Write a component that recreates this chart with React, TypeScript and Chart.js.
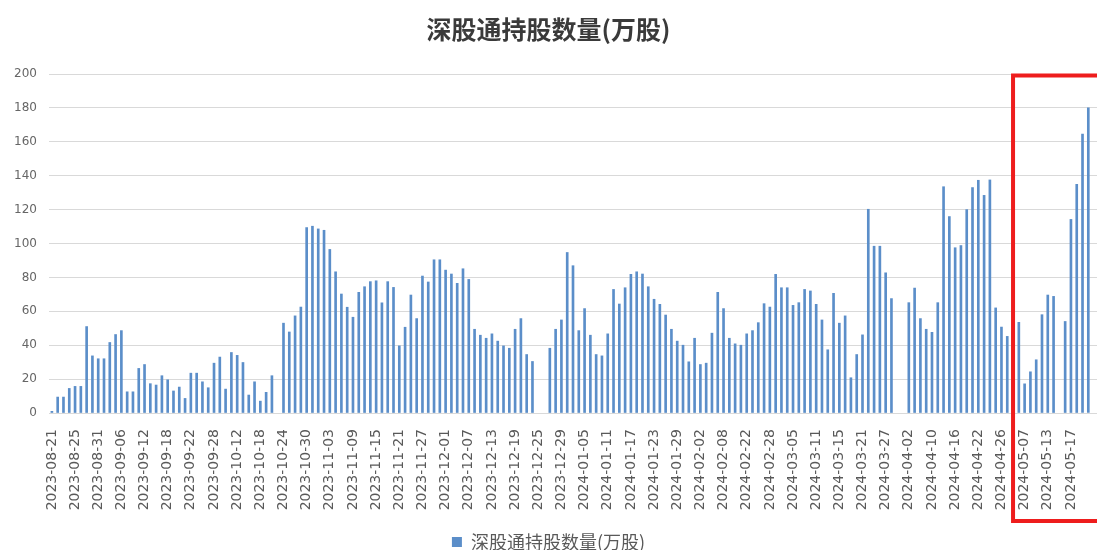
import React, { useEffect, useRef } from 'react';
import { Chart, registerables } from 'chart.js';

Chart.register(...registerables);

const chartTitle = '深股通持股数量(万股)';
const seriesName = '深股通持股数量(万股)';

// trading days per month
const daysAug23 = [21, 22, 23, 24, 25, 28, 29, 30, 31];
const daysSep23 = [1, 4, 5, 6, 7, 8, 11, 12, 13, 14, 15, 18, 19, 20, 21, 22, 25, 26, 27, 28];
const daysOct23 = [9, 10, 11, 12, 13, 16, 17, 18, 19, 20, 23, 24, 25, 26, 27, 30, 31];
const daysNov23 = [1, 2, 3, 6, 7, 8, 9, 10, 13, 14, 15, 16, 17, 20, 21, 22, 23, 24, 27, 28, 29, 30];
const daysDec23 = [1, 4, 5, 6, 7, 8, 11, 12, 13, 14, 15, 18, 19, 20, 21, 22, 25, 26, 27, 28, 29];
const daysJan24 = [2, 3, 4, 5, 8, 9, 10, 11, 12, 15, 16, 17, 18, 19, 22, 23, 24, 25, 26, 29, 30, 31];
const daysFeb24 = [1, 2, 5, 6, 7, 8, 19, 20, 21, 22, 23, 26, 27, 28, 29];
const daysMar24 = [1, 4, 5, 6, 7, 8, 11, 12, 13, 14, 15, 18, 19, 20, 21, 22, 25, 26, 27, 28, 29];
const daysApr24 = [1, 2, 3, 8, 9, 10, 11, 12, 15, 16, 17, 18, 19, 22, 23, 24, 25, 26, 29, 30];
const daysMay24 = [6, 7, 8, 9, 10, 13, 14, 15, 16, 17, 20, 21, 22, 23];

// holdings (万股) per month, null = no data that day
const valsAug23 = [1, 9.4, 9.4, 14.5, 15.7, 15.7, 51, 33.7, 32];
const valsSep23 = [32, 41.6, 46.3, 48.6, 12.5, 12.5, 26.3, 28.6, 17.3, 16.5, 22, 19.6, 13, 15.3, 8.6, 23.5, 23.5, 18.4, 14.9, 29.4];
const valsOct23 = [33, 14.1, 35.7, 34, 29.8, 10.6, 18.4, 7, 12.2, 22, null, 53, 47.8, 57.3, 62.5, 109.4, 110.2];
const valsNov23 = [108.6, 107.8, 96.5, 83.3, 70.2, 62.4, 56.5, 71.2, 74.5, 77.5, 78, 65, 77.5, 74.1, 39.6, 50.6, 69.6, 55.7, 80.8, 77.3, 90.4, 90.4];
const valsDec23 = [84.3, 82, 76.5, 85.1, 78.8, 49.4, 45.9, 44.1, 46.7, 42.4, 39.6, 38.2, 49.4, 55.7, 34.5, 30.4, null, null, 38.2, 49.4, 54.9];
const valsJan24 = [94.7, 86.9, 48.6, 61.6, 45.9, 34.5, 33.7, 46.7, 72.9, 64.3, 73.9, 81.8, 83.3, 82, 74.5, 67.1, 64.1, 57.8, 49.4, 42.4, 40, 30.2];
const valsFeb24 = [44.1, 28.6, 29.4, 47.1, 71.2, 61.6, 44.1, 40.8, 40, 46.7, 48.6, 53.3, 64.5, 62.5, 81.8];
const valsMar24 = [73.9, 73.9, 63.5, 65.1, 72.9, 72, 64.1, 54.9, 37.3, 70.6, 53, 57.3, 20.8, 34.5, 46.1, 120.2, 98.4, 98.4, 82.7, 67.5, null];
const valsApr24 = [null, 65.1, 73.7, 55.7, 49.4, 47.6, 65.1, 133.5, 115.9, 97.5, 98.8, 120, 133, 137.3, 128.4, 137.5, 62, 50.7, 45.2, 48];
const valsMay24 = [53.5, 17.2, 24.3, 31.4, 58, 69.6, 68.8, null, 54, 114.2, 134.9, 164.5, 180, null];

const tickLabels = [
  '2023-08-21', '2023-08-25', '2023-08-31', '2023-09-06', '2023-09-12', '2023-09-18', '2023-09-22', '2023-09-28',
  '2023-10-12', '2023-10-18', '2023-10-24', '2023-10-30', '2023-11-03', '2023-11-09', '2023-11-15', '2023-11-21',
  '2023-11-27', '2023-12-01', '2023-12-07', '2023-12-13', '2023-12-19', '2023-12-25', '2023-12-29', '2024-01-05',
  '2024-01-11', '2024-01-17', '2024-01-23', '2024-01-29', '2024-02-02', '2024-02-08', '2024-02-22', '2024-02-28',
  '2024-03-05', '2024-03-11', '2024-03-15', '2024-03-21', '2024-03-27', '2024-04-02', '2024-04-10', '2024-04-16',
  '2024-04-22', '2024-04-26', '2024-05-07', '2024-05-13', '2024-05-17',
];

const yMin = 0;
const yMax = 200;
const yStep = 20;
const highlightFrom = '2024-04-30';

const pad = (n: number) => (n < 10 ? '0' + n : '' + n);
const monthDays: [string, number[]][] = [
  ['2023-08', daysAug23], ['2023-09', daysSep23], ['2023-10', daysOct23], ['2023-11', daysNov23],
  ['2023-12', daysDec23], ['2024-01', daysJan24], ['2024-02', daysFeb24], ['2024-03', daysMar24],
  ['2024-04', daysApr24], ['2024-05', daysMay24],
];
const categories: string[] = monthDays.flatMap(([m, ds]) => ds.map((d) => `${m}-${pad(d)}`));
const values: (number | null)[] = [
  ...valsAug23, ...valsSep23, ...valsOct23, ...valsNov23, ...valsDec23,
  ...valsJan24, ...valsFeb24, ...valsMar24, ...valsApr24, ...valsMay24,
];

const highlightBox = {
  id: 'highlightBox',
  afterDraw(chart: any) {
    const { ctx, scales } = chart;
    const x = scales.x;
    const y = scales.y;
    const left = x.getPixelForValue(categories.indexOf(highlightFrom));
    const top = y.getPixelForValue(yMax) + 1.5;
    const bottom = chart.height - 29;
    ctx.save();
    ctx.strokeStyle = '#ee1d1d';
    ctx.lineWidth = 4;
    ctx.strokeRect(left, top, chart.width - left + 20, bottom - top);
    ctx.restore();
  },
};

export default function App() {
  const ref = useRef<HTMLCanvasElement | null>(null);
  useEffect(() => {
    if (!ref.current) return;
    const chart = new Chart(ref.current, {
      type: 'bar',
      data: {
        labels: categories,
        datasets: [
          {
            label: seriesName,
            data: values,
            backgroundColor: '#5b8ec9',
            borderWidth: 0,
            barThickness: 2,
          },
        ],
      },
      options: {
        animation: false,
        responsive: true,
        maintainAspectRatio: false,
        layout: { padding: { left: 0, right: 0, top: 0, bottom: -11 } },
        plugins: {
          title: {
            display: true,
            text: chartTitle,
            color: '#3a3a3a',
            font: { family: '"Noto Sans CJK SC", sans-serif', size: 25, weight: 'bold' },
            padding: { top: 14, bottom: 30 },
          },
          legend: {
            display: true,
            position: 'bottom',
            labels: {
              color: '#595959',
              font: { family: '"Noto Sans CJK SC", sans-serif', size: 18 },
              boxWidth: 10,
              boxHeight: 10,
              padding: 10,
            },
          },
          tooltip: { enabled: false },
        },
        scales: {
          x: {
            grid: { display: false },
            border: { display: false },
            ticks: {
              autoSkip: false,
              minRotation: 90,
              maxRotation: 90,
              padding: 8,
              color: '#595959',
              font: { family: '"DejaVu Sans", sans-serif', size: 14 },
              callback: (_v: any, i: number) => (tickLabels.includes(categories[i]) ? categories[i] : ''),
            },
            afterFit: (scale: any) => {
              scale.height = 110;
              scale.paddingLeft = 0;
              scale.paddingRight = 0;
            },
          },
          y: {
            min: yMin,
            max: yMax,
            ticks: {
              stepSize: yStep,
              padding: 12,
              color: '#666666',
              font: { family: '"DejaVu Sans", sans-serif', size: 12 },
            },
            grid: { color: '#d9d9d9', drawTicks: false },
            border: { display: false },
            afterFit: (scale: any) => {
              scale.width = 49;
            },
          },
        },
      },
      plugins: [highlightBox],
    });
    return () => chart.destroy();
  }, []);
  return (
    <div style={{ position: 'absolute', left: 0, top: 0, width: 1097, height: 550, background: '#fff' }}>
      <canvas ref={ref} />
    </div>
  );
}
